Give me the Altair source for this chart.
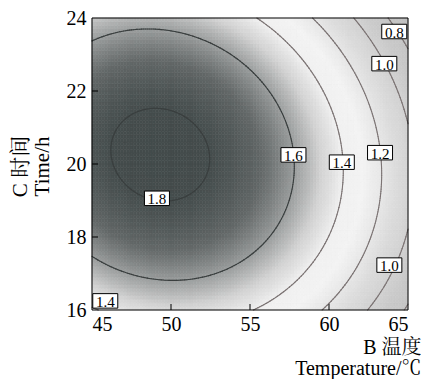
import altair as alt
import numpy as np
import pandas as pd

alt.data_transformers.disable_max_rows()

# ---- points on the contour lines (temperature, time, level)
pt_temp = [45.95, 52.9, 48.9, 50.16,
           57.95, 48.9, 49.95, 45.0, 45.0,
           60.94, 55.21, 55.04,
           63.3, 58.79, 59.9,
           61.2, 62.4, 65.0, 65.0,
           64.3, 65.0]
pt_time = [20.44, 20.12, 21.65, 18.88,
           19.75, 23.7, 16.87, 23.39, 17.56,
           19.93, 24.0, 16.0,
           19.8, 24.0, 16.0,
           24.0, 16.0, 18.47, 20.94,
           24.0, 23.05]
pt_level = [1.8, 1.8, 1.8, 1.8,
            1.6, 1.6, 1.6, 1.6, 1.6,
            1.4, 1.4, 1.4,
            1.2, 1.2, 1.2,
            1.0, 1.0, 1.0, 1.0,
            0.8, 0.8]

# contour levels drawn
levels = [0.8, 1.0, 1.2, 1.4, 1.6, 1.8]

# contour labels (position + text)
lab_temp = [64.13, 63.5, 63.23, 57.75, 60.81, 49.11, 63.82, 45.84]
lab_time = [23.63, 22.75, 20.31, 20.25, 20.05, 19.06, 17.23, 16.25]
lab_text = ["0.8", "1.0", "1.2", "1.6", "1.4", "1.8", "1.0", "1.4"]

x_ticks = [45, 50, 55, 60, 65]
y_ticks = [16, 18, 20, 22, 24]

# ---- quadratic response surface fitted to the read contour points
Xc = (np.array(pt_temp) - 55) / 10
Yc = (np.array(pt_time) - 20) / 4
A = np.column_stack([np.ones_like(Xc), Xc, Yc, Xc**2, Yc**2, Xc * Yc])
coef, *_ = np.linalg.lstsq(A, np.array(pt_level), rcond=None)


def surf(x, y):
    X = (x - 55) / 10
    Y = (y - 20) / 4
    return coef[0] + coef[1]*X + coef[2]*Y + coef[3]*X**2 + coef[4]*Y**2 + coef[5]*X*Y


# heatmap cells
xe = np.linspace(45, 65, 101)
ye = np.linspace(16, 24, 81)
rows = []
for i in range(len(ye) - 1):
    for j in range(len(xe) - 1):
        cx = (xe[j] + xe[j+1]) / 2
        cy = (ye[i] + ye[i+1]) / 2
        rows.append((round(xe[j], 3), round(xe[j+1], 3), round(ye[i], 3), round(ye[i+1], 3),
                     round(float(surf(cx, cy)), 4)))
heat = pd.DataFrame(rows, columns=["x", "x2", "y", "y2", "z"])

# contour segments (marching squares)
gx = np.linspace(45, 65, 161)
gy = np.linspace(16, 24, 129)
GX, GY = np.meshgrid(gx, gy)
Z = surf(GX, GY)
segs = []
for lev in levels:
    for i in range(len(gy) - 1):
        for j in range(len(gx) - 1):
            c = [(gx[j], gy[i], Z[i, j]), (gx[j+1], gy[i], Z[i, j+1]),
                 (gx[j+1], gy[i+1], Z[i+1, j+1]), (gx[j], gy[i+1], Z[i+1, j])]
            pts = []
            for k in range(4):
                a, b = c[k], c[(k+1) % 4]
                if (a[2] >= lev) != (b[2] >= lev):
                    t = (lev - a[2]) / (b[2] - a[2])
                    pts.append((a[0] + t*(b[0]-a[0]), a[1] + t*(b[1]-a[1])))
            for p in range(0, len(pts) - 1, 2):
                segs.append((pts[p][0], pts[p][1], pts[p+1][0], pts[p+1][1], lev))
seg = pd.DataFrame(segs, columns=["x", "y", "x2", "y2", "level"])

labels = pd.DataFrame({"x": lab_temp, "y": lab_time, "t": lab_text})
xt = pd.DataFrame({"x": [50, 55, 60]})
yt = pd.DataFrame({"y": [18, 20, 22]})

W, H = 316, 292
SERIF = "'Liberation Serif', 'Noto Serif CJK SC', 'Noto Sans CJK SC', serif"

xs = alt.Scale(domain=[45, 65], nice=False, zero=False)
ys = alt.Scale(domain=[16, 24], nice=False, zero=False)
cs = alt.Scale(domain=[0.6, 0.9, 1.1, 1.3, 1.4, 1.5, 1.6, 1.7, 1.8, 1.95],
               range=['#bcbcbc', '#c9c9c9', '#dadada', '#f3f3f3', '#f0f0f0',
                      '#d2d2d2', '#9a9d9d', '#636868', '#454d4d', '#3b4343'],
               interpolate='rgb')

xaxis = alt.Axis(values=x_ticks, ticks=False, domain=False, grid=False,
                 labelFont=SERIF, labelFontSize=20, labelColor='black', labelPadding=4,
                 title=["B 温度", "Temperature/℃"], titleFont=SERIF, titleFontSize=20,
                 titleFontWeight='normal', titleColor='black', titleAlign='right',
                 titleAnchor='end', titleBaseline='top', titleX=329, titleY=27,
                 titleLineHeight=21)
yaxis = alt.Axis(values=y_ticks, ticks=False, domain=False, grid=False,
                 labelFont=SERIF, labelFontSize=20, labelColor='black', labelPadding=6,
                 title=["C 时间", "Time/h"], titleFont=SERIF, titleFontSize=21,
                 titleFontWeight='normal', titleColor='black', titleAngle=-90,
                 titleAlign='center', titleBaseline='middle', titleX=-72, titleY=148,
                 titleLineHeight=22)

X = alt.X('x:Q', scale=xs, axis=xaxis)
Y = alt.Y('y:Q', scale=ys, axis=yaxis)

heat_layer = alt.Chart(heat).mark_rect(strokeWidth=0.6).encode(
    x=X, x2='x2:Q', y=Y, y2='y2:Q',
    color=alt.Color('z:Q', scale=cs, legend=None),
    stroke=alt.Stroke('z:Q', scale=cs, legend=None),
)

inner = alt.Chart(seg).transform_filter(alt.datum.level >= 1.5).mark_rule(
    color='#3a3f3f', strokeWidth=1.1, strokeCap='round').encode(
    x=X, y=Y, x2='x2:Q', y2='y2:Q')
outer = alt.Chart(seg).transform_filter(alt.datum.level < 1.5).mark_rule(
    color='#7c7474', strokeWidth=1.1, strokeCap='round').encode(
    x=X, y=Y, x2='x2:Q', y2='y2:Q')

boxes = alt.Chart(labels).mark_point(
    shape="M-1,-0.58L1,-0.58L1,0.58L-1,0.58Z", filled=True, fill='white',
    stroke='black', strokeWidth=1, size=625, opacity=1).encode(x=X, y=Y)
texts = alt.Chart(labels).mark_text(
    font=SERIF, fontSize=15, color='black', align='center', baseline='middle', dy=1).encode(
    x=X, y=Y, text='t:N')

xtick = alt.Chart(xt).mark_rule(color='black', strokeWidth=1).encode(
    x=X, y=alt.value(H), y2=alt.value(H - 6))
ytick = alt.Chart(yt).mark_rule(color='black', strokeWidth=1).encode(
    y=Y, x=alt.value(0), x2=alt.value(6))

frame = alt.Chart(pd.DataFrame({'a': [0]})).mark_rect(
    fillOpacity=0, stroke='black', strokeWidth=1).encode(
    x=alt.value(0), x2=alt.value(W), y=alt.value(0), y2=alt.value(H))

chart = alt.layer(heat_layer, inner, outer, boxes, texts, xtick, ytick, frame).properties(
    width=W, height=H,
    autosize=alt.AutoSizeParams(type='none'),
    padding={"left": 92, "top": 18, "right": 13, "bottom": 69},
    background='white',
).configure_view(stroke=None)

chart.save("out.html", embed_options={"renderer": "svg", "actions": False})
